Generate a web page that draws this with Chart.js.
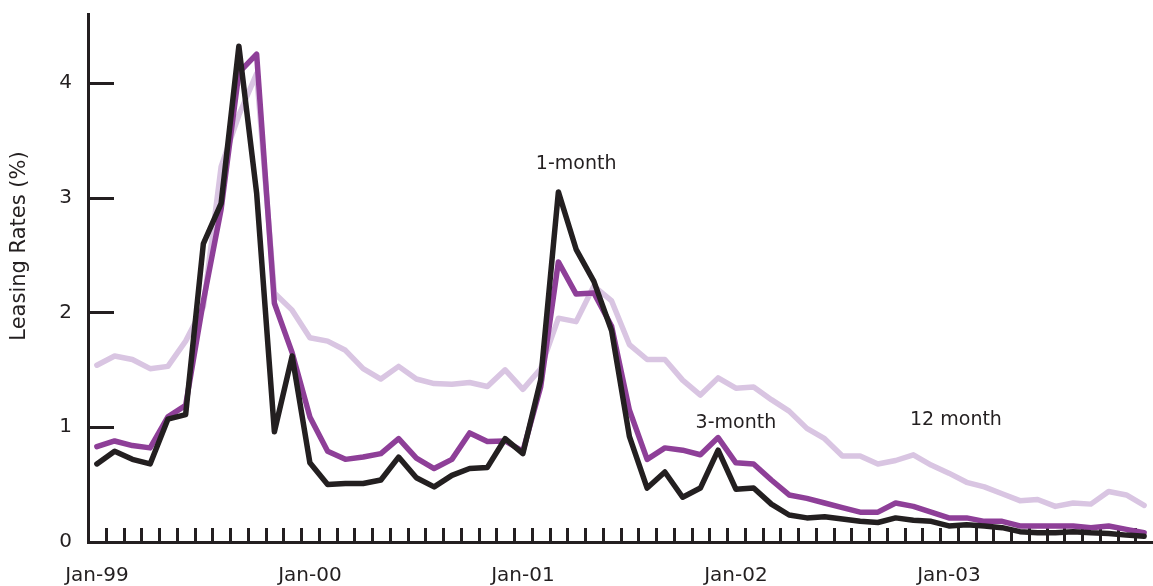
<!DOCTYPE html>
<html>
<head>
<meta charset="utf-8">
<script src="https://cdn.jsdelivr.net/npm/chart.js@4"></script>
<style>
  html, body { margin: 0; padding: 0; background: #ffffff; }
  #wrap { width: 1153px; height: 586px; }
  canvas { display: block; }
</style>
</head>
<body>
<div id="wrap"><canvas id="c" width="1153" height="586"></canvas></div>
<script>
// ---- data ----
const categories = [
  'Jan-99','Feb-99','Mar-99','Apr-99','May-99','Jun-99','Jul-99','Aug-99','Sep-99','Oct-99','Nov-99','Dec-99',
  'Jan-00','Feb-00','Mar-00','Apr-00','May-00','Jun-00','Jul-00','Aug-00','Sep-00','Oct-00','Nov-00','Dec-00',
  'Jan-01','Feb-01','Mar-01','Apr-01','May-01','Jun-01','Jul-01','Aug-01','Sep-01','Oct-01','Nov-01','Dec-01',
  'Jan-02','Feb-02','Mar-02','Apr-02','May-02','Jun-02','Jul-02','Aug-02','Sep-02','Oct-02','Nov-02','Dec-02',
  'Jan-03','Feb-03','Mar-03','Apr-03','May-03','Jun-03','Jul-03','Aug-03','Sep-03','Oct-03','Nov-03','Dec-03'
];
const xTickLabels = ['Jan-99','Jan-00','Jan-01','Jan-02','Jan-03'];
const yTickValues = [0, 1, 2, 3, 4];

const oneMonth = [
  0.68,0.79,0.72,0.68,1.07,1.11,2.60,2.95,4.32,3.04,
  0.96,1.62,0.69,0.50,0.51,0.51,0.54,0.74,0.56,0.48,
  0.58,0.64,0.65,0.90,0.77,1.41,3.05,2.55,2.27,1.84,
  0.92,0.47,0.61,0.39,0.47,0.80,0.46,0.47,0.33,0.235,
  0.21,0.22,0.20,0.18,0.17,0.21,0.19,0.18,0.14,0.15,
  0.14,0.125,0.09,0.08,0.08,0.09,0.08,0.075,0.06,0.05
];
const threeMonth = [
  0.83,0.88,0.84,0.82,1.09,1.19,2.10,2.90,4.09,4.25,
  2.08,1.65,1.09,0.79,0.72,0.74,0.77,0.90,0.73,0.64,
  0.72,0.95,0.875,0.88,0.79,1.35,2.44,2.16,2.17,1.88,
  1.15,0.72,0.82,0.80,0.76,0.91,0.69,0.68,0.54,0.41,
  0.38,0.34,0.30,0.26,0.26,0.34,0.31,0.26,0.21,0.21,
  0.18,0.18,0.14,0.14,0.14,0.14,0.125,0.14,0.11,0.08
];
const twelveMonth = [
  1.54,1.62,1.59,1.51,1.53,1.75,2.05,3.27,3.72,4.08,
  2.17,2.02,1.78,1.75,1.67,1.51,1.42,1.53,1.42,1.38,
  1.375,1.39,1.355,1.50,1.33,1.51,1.95,1.92,2.23,2.10,
  1.72,1.59,1.59,1.41,1.28,1.43,1.34,1.35,1.24,1.14,
  0.99,0.90,0.75,0.75,0.68,0.71,0.76,0.67,0.60,0.52,
  0.48,0.42,0.36,0.37,0.31,0.34,0.33,0.44,0.41,0.32
];

// series labels placed on the chart (category index, value)
const seriesNames = ['1-month', '3-month', '12 month'];
const nameIndex = [27, 36, 48.4];
const nameValue = [3.29, 1.04, 1.065];
const yTitle = 'Leasing Rates (%)';

// ---- style ----
const INK = '#231f20';
const C_BLACK = '#231f20';
const C_PURPLE = '#8e3f98';
const C_LIGHT = '#d9c5e2';
Chart.defaults.font.family = "'DejaVu Sans', Verdana, sans-serif";
Chart.defaults.color = INK;

const decorations = {
  id: 'decorations',
  beforeDatasetsDraw(chart) {
    const ctx = chart.ctx, xs = chart.scales.x, ys = chart.scales.y, a = chart.chartArea;
    ctx.save();
    ctx.strokeStyle = INK;
    ctx.lineWidth = 3;
    ctx.lineCap = 'butt';
    for (let k = 1; k < categories.length; k++) {
      const px = Math.round(xs.getPixelForValue(k - 0.5)) + 0.5;
      ctx.beginPath();
      ctx.moveTo(px, a.bottom);
      ctx.lineTo(px, a.bottom - 14);
      ctx.stroke();
    }
    yTickValues.forEach(v => {
      if (v === 0) return;
      const py = Math.round(ys.getPixelForValue(v)) + 0.5;
      ctx.beginPath();
      ctx.moveTo(a.left, py);
      ctx.lineTo(a.left + 26, py);
      ctx.stroke();
    });
    ctx.restore();
  },
  afterDraw(chart) {
    const ctx = chart.ctx, xs = chart.scales.x, ys = chart.scales.y;
    ctx.save();
    ctx.fillStyle = INK;
    ctx.font = "19px 'DejaVu Sans', Verdana, sans-serif";
    ctx.textAlign = 'center';
    ctx.textBaseline = 'middle';
    seriesNames.forEach((s, i) => {
      ctx.fillText(s, xs.getPixelForValue(nameIndex[i]), ys.getPixelForValue(nameValue[i]));
    });
    ctx.translate(20, 246);
    ctx.rotate(-Math.PI / 2);
    ctx.font = "21px 'DejaVu Sans', Verdana, sans-serif";
    ctx.fillText(yTitle, 0, 0);
    ctx.restore();
  }
};

const lineStyle = { borderWidth: 5.5, pointRadius: 0, tension: 0, fill: false, borderJoinStyle: 'round', borderCapStyle: 'round' };

new Chart(document.getElementById('c'), {
  type: 'line',
  data: {
    labels: categories,
    datasets: [
      Object.assign({ label: '1-month', data: oneMonth, borderColor: C_BLACK, order: 1 }, lineStyle),
      Object.assign({ label: '3-month', data: threeMonth, borderColor: C_PURPLE, order: 2 }, lineStyle),
      Object.assign({ label: '12 month', data: twelveMonth, borderColor: C_LIGHT, order: 3 }, lineStyle)
    ]
  },
  options: {
    responsive: false,
    animation: false,
    devicePixelRatio: 1,
    events: [],
    layout: { padding: { top: 14, right: 0, left: 0, bottom: 0 } },
    plugins: { legend: { display: false }, tooltip: { enabled: false } },
    scales: {
      x: {
        type: 'category',
        offset: true,
        grid: { display: false, drawTicks: false },
        border: { display: true, color: INK, width: 3 },
        ticks: {
          autoSkip: false, maxRotation: 0, minRotation: 0,
          padding: 22,
          font: { size: 20 },
          color: INK,
          callback: function(v, i) { const l = categories[i]; return xTickLabels.includes(l) ? l : ''; }
        },
        afterFit: s => { s.height = 44; s.paddingLeft = 0; s.paddingRight = 0; }
      },
      y: {
        min: 0, max: 4.6,
        grid: { display: false, drawTicks: false },
        border: { display: true, color: INK, width: 3 },
        ticks: {
          stepSize: 1,
          padding: 16,
          font: { size: 20 },
          color: INK,
          callback: v => yTickValues.includes(v) ? String(v) : ''
        },
        afterFit: s => { s.width = 88; s.paddingTop = 0; s.paddingBottom = 0; }
      }
    }
  },
  plugins: [decorations]
});
</script>
</body>
</html>
